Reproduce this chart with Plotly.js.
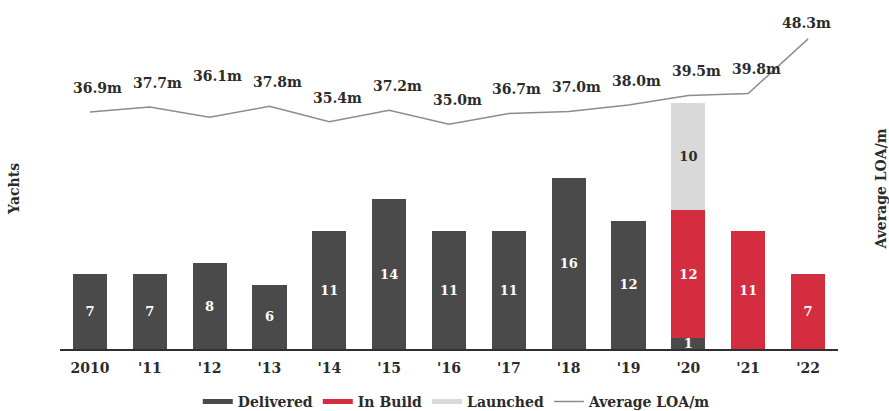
<!DOCTYPE html>
<html>
<head>
<meta charset="utf-8">
<script src="https://cdn.plot.ly/plotly-3.0.1.min.js"></script>
<style>
  html, body { margin: 0; padding: 0; background: #ffffff; }
  #chart { width: 889px; height: 411px; }
</style>
</head>
<body>
<div id="chart"></div>
<script>
// ---- data ----
const years = ["2010", "'11", "'12", "'13", "'14", "'15", "'16", "'17", "'18", "'19", "'20", "'21", "'22"];
const delivered = [7, 7, 8, 6, 11, 14, 11, 11, 16, 12, 1, null, null];
const inBuild = [null, null, null, null, null, null, null, null, null, null, 12, 11, 7];
const launched = [null, null, null, null, null, null, null, null, null, null, 10, null, null];
const avgLOA = [36.9, 37.7, 36.1, 37.8, 35.4, 37.2, 35.0, 36.7, 37.0, 38.0, 39.5, 39.8, 48.3];

// ---- styles ----
const FONT = "DejaVu Serif";
const C_DEL = "#4a4a4a";
const C_BUILD = "#d42d3f";
const C_LAUNCH = "#d9d9d9";
const C_LINE = "#8c8c8c";
const C_TEXT = "#2b2b2b";

const boldFont = (size, color) => ({ family: FONT, size: size, color: color, weight: "bold" });

function barTrace(name, values, color, textColor) {
  return {
    type: "bar", name: name, x: years, y: values,
    marker: { color: color }, showlegend: false,
    text: values.map(v => v == null ? "" : String(v)),
    textposition: "inside", insidetextanchor: "middle", textangle: 0,
    constraintext: "none", cliponaxis: false,
    textfont: boldFont(13, textColor), hoverinfo: "skip"
  };
}

// legend-only entries drawn on a hidden axis pair (short thick lines like the reference)
function legendTrace(name, color, width) {
  return {
    type: "scatter", mode: "lines", name: name, x: [null], y: [null],
    xaxis: "x2", yaxis: "y3", line: { color: color, width: width }, hoverinfo: "skip"
  };
}

const traces = [
  barTrace("Delivered", delivered, C_DEL, "#ffffff"),
  barTrace("In Build", inBuild, C_BUILD, "#ffffff"),
  barTrace("Launched", launched, C_LAUNCH, C_TEXT),
  {
    type: "scatter", mode: "lines", name: "Average LOA/m", x: years, y: avgLOA,
    yaxis: "y2", line: { color: C_LINE, width: 1.5 }, showlegend: false, hoverinfo: "skip"
  },
  legendTrace("Delivered", C_DEL, 5),
  legendTrace("In Build", C_BUILD, 5),
  legendTrace("Launched", C_LAUNCH, 5),
  legendTrace("Average LOA/m", C_LINE, 1.5)
];

const nudges = { 2: { dy: 17, dx: 0 }, 12: { dy: -8, dx: -10 } };
const annotations = avgLOA.map((v, i) => ({
  x: i, y: v, xref: "x", yref: "y2",
  text: v.toFixed(1) + "m", showarrow: false,
  xshift: 8 + ((nudges[i] && nudges[i].dx) || 0),
  yshift: 24 + ((nudges[i] && nudges[i].dy) || 0),
  font: boldFont(14, C_TEXT)
}));

const hiddenAxis = { visible: false, showgrid: false, zeroline: false, fixedrange: true, range: [0, 1] };

const layout = {
  width: 889, height: 411,
  margin: { l: 60, r: 51, t: 28, b: 62, autoexpand: false },
  paper_bgcolor: "#ffffff", plot_bgcolor: "#ffffff",
  barmode: "stack", bargap: 0.43,
  font: { family: FONT, size: 14, color: C_TEXT },
  showlegend: true,
  legend: {
    orientation: "h",
    x: 0.51, xanchor: "center", y: -0.165, yanchor: "middle",
    font: boldFont(14, C_TEXT), traceorder: "normal", bgcolor: "rgba(0,0,0,0)"
  },
  xaxis: {
    type: "category", categoryorder: "array", categoryarray: years,
    range: [-0.5, years.length - 0.5], autorange: false,
    showgrid: false, zeroline: false,
    showline: true, linecolor: "#2f2f2f", linewidth: 2,
    ticks: "", ticklabelstandoff: 5, tickfont: boldFont(14, C_TEXT), fixedrange: true
  },
  yaxis: {
    range: [0, 30], showgrid: false, zeroline: false, showticklabels: false, ticks: "",
    title: { text: "Yachts", font: boldFont(14, C_TEXT), standoff: 36 },
    fixedrange: true
  },
  yaxis2: {
    range: [0, 50], overlaying: "y", side: "right",
    showgrid: false, zeroline: false, showticklabels: false, ticks: "",
    title: { text: "Average LOA/m", font: boldFont(14, C_TEXT), standoff: 39 },
    fixedrange: true
  },
  xaxis2: Object.assign({ overlaying: "x", anchor: "y3" }, hiddenAxis),
  yaxis3: Object.assign({ overlaying: "y", anchor: "x2" }, hiddenAxis),
  annotations: annotations
};

Plotly.newPlot("chart", traces, layout, { displayModeBar: false, staticPlot: true });
</script>
</body>
</html>
